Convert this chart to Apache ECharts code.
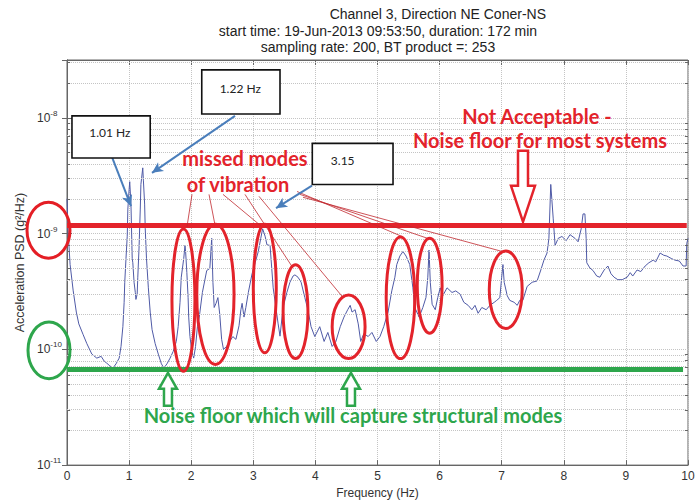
<!DOCTYPE html>
<html><head><meta charset="utf-8">
<script src="https://cdn.jsdelivr.net/npm/echarts@6/dist/echarts.min.js"></script>
<style>html,body{margin:0;padding:0;background:#fff}#c{width:699px;height:504px}</style>
</head><body><div id="c"></div>
<script>
// ---------- DATA ----------
const freq = [0.00,0.02,0.05,0.10,0.15,0.19,0.26,0.32,0.40,0.48,0.55,0.60,0.64,0.69,0.74,0.79,0.84,0.87,0.90,0.92,0.93,0.95,0.97,0.98,1.00,1.01,1.03,1.05,1.06,1.08,1.10,1.11,1.13,1.14,1.16,1.18,1.19,1.22,1.23,1.25,1.26,1.28,1.31,1.34,1.37,1.42,1.47,1.52,1.56,1.61,1.66,1.71,1.76,1.79,1.82,1.84,1.88,1.90,1.91,1.93,1.95,1.96,1.98,2.01,2.04,2.07,2.10,2.13,2.18,2.25,2.30,2.33,2.35,2.37,2.40,2.43,2.46,2.49,2.52,2.57,2.62,2.67,2.72,2.77,2.80,2.82,2.85,2.88,2.92,2.98,3.03,3.08,3.12,3.15,3.19,3.22,3.27,3.32,3.40,3.43,3.48,3.54,3.59,3.64,3.67,3.72,3.77,3.83,3.88,3.93,3.99,4.07,4.14,4.20,4.27,4.33,4.40,4.46,4.52,4.56,4.59,4.64,4.69,4.73,4.78,4.85,4.91,4.98,5.04,5.10,5.17,5.23,5.28,5.31,5.36,5.41,5.46,5.52,5.57,5.60,5.67,5.73,5.78,5.81,5.83,5.85,5.88,5.93,5.97,6.01,6.05,6.12,6.20,6.26,6.33,6.39,6.46,6.52,6.57,6.62,6.68,6.75,6.81,6.88,6.92,6.97,7.00,7.02,7.04,7.09,7.13,7.20,7.25,7.29,7.34,7.41,7.49,7.57,7.63,7.68,7.73,7.76,7.79,7.83,7.86,7.91,7.97,8.04,8.10,8.18,8.23,8.28,8.31,8.34,8.36,8.37,8.42,8.47,8.53,8.58,8.65,8.71,8.76,8.81,8.87,8.94,9.02,9.07,9.11,9.18,9.24,9.31,9.37,9.44,9.48,9.55,9.61,9.66,9.73,9.79,9.86,9.92,9.97,9.98,10.00];
const psd = [2.0e-9,1.0e-9,5.4e-10,3.2e-10,2.1e-10,1.66e-10,1.34e-10,1.12e-10,9.1e-11,8.4e-11,8.7e-11,7.9e-11,7.6e-11,7.2e-11,6.9e-11,7.5e-11,8.4e-11,1.06e-10,1.57e-10,2.55e-10,3.8e-10,6.1e-10,9.5e-10,1.63e-9,2.4e-9,2.81e-9,1.8e-9,6.1e-10,5.6e-10,3.8e-10,3.1e-10,2.7e-10,3.0e-10,4.2e-10,7.5e-10,1.63e-9,2.66e-9,3.7e-9,2.9e-9,1.8e-9,1.1e-9,6.1e-10,3.4e-10,2.1e-10,1.48e-10,1.12e-10,9.1e-11,7.5e-11,6.9e-11,7.5e-11,8.4e-11,9.6e-11,1.17e-10,1.57e-10,2.55e-10,4.2e-10,6.1e-10,7.9e-10,7.0e-10,4.6e-10,2.8e-10,1.9e-10,1.29e-10,9.6e-11,8.4e-11,1.06e-10,1.57e-10,1.9e-10,3.1e-10,4.8e-10,5.0e-10,9.1e-10,3.8e-10,2.3e-10,2.5e-10,2.8e-10,2.0e-10,1.22e-10,1.0e-10,1.06e-10,1.17e-10,1.29e-10,1.22e-10,1.6e-10,2.2e-10,2.5e-10,1.9e-10,2.3e-10,3.1e-10,4.5e-10,5.6e-10,7.0e-10,9.1e-10,1.1e-9,9.5e-10,8.0e-10,7.9e-10,3.4e-10,1.66e-10,1.3e-10,2.3e-10,3.1e-10,3.8e-10,4.3e-10,4.4e-10,4.2e-10,3.8e-10,2.8e-10,2.2e-10,1.57e-10,1.29e-10,1.57e-10,1.17e-10,1.4e-10,1.06e-10,1.17e-10,1.57e-10,1.9e-10,2.2e-10,2.4e-10,2.1e-10,2.2e-10,1.66e-10,1.17e-10,1.37e-10,1.29e-10,1.4e-10,1.17e-10,1.29e-10,1.57e-10,2.1e-10,3.2e-10,4.2e-10,5.4e-10,6.4e-10,7.0e-10,6.4e-10,5.4e-10,3.4e-10,2.3e-10,1.9e-10,2.3e-10,2.8e-10,4.2e-10,7.2e-10,3.8e-10,2.45e-10,2.2e-10,2.8e-10,3.4e-10,2.9e-10,3.4e-10,3.1e-10,3.2e-10,3.0e-10,2.55e-10,2.4e-10,2.2e-10,2.4e-10,2.05e-10,2.3e-10,2.2e-10,2.4e-10,2.55e-10,2.65e-10,2.8e-10,4.2e-10,5.4e-10,3.8e-10,2.9e-10,2.65e-10,2.55e-10,2.4e-10,2.65e-10,2.65e-10,3.5e-10,3.8e-10,3.9e-10,4.85e-10,5.9e-10,6.8e-10,9.1e-10,2.66e-9,1.34e-9,7.9e-10,9.1e-10,9.45e-10,8.7e-10,9.8e-10,9.1e-10,8.5e-10,1.1e-9,1.48e-9,1.48e-9,9.1e-10,5.6e-10,5.05e-10,4.8e-10,4.3e-10,4.2e-10,4.85e-10,5.25e-10,4.5e-10,4.2e-10,4.0e-10,4.0e-10,4.2e-10,4.6e-10,4.3e-10,4.85e-10,4.7e-10,5.25e-10,5.6e-10,5.9e-10,5.7e-10,6.8e-10,6.5e-10,6.4e-10,6.1e-10,5.9e-10,5.8e-10,5.25e-10,5.25e-10,8.2e-10,9.1e-10];
const xTicks = [0,1,2,3,4,5,6,7,8,9,10];
const yTickExps = [-11,-10,-9,-8];
const redFloor = 1.19e-9;     // "Not acceptable" noise floor
const greenFloor = 6.76e-11;  // acceptable noise floor
const titleLines = ['Channel 3, Direction NE Coner-NS','start time: 19-Jun-2013 09:53:50, duration: 172 min','sampling rate: 200, BT product =: 253'];
const boxLabels = ['1.01 Hz','1.22 Hz','3.15'];

// ---------- ANNOTATION ANCHORS (data space: [Hz, log10 PSD]) ----------
const boxes = [
  {x0:0.08,x1:1.34,y0:-8.347,y1:-7.983, tx:0.69, ty:-8.13},
  {x0:2.17,x1:3.43,y0:-7.966,y1:-7.585, tx:2.79, ty:-7.75},
  {x0:3.95,x1:5.25,y0:-8.576,y1:-8.220, tx:4.44, ty:-8.37}
];
const blueArrows = [[[0.725,-8.339],[1.031,-8.763]],[[2.705,-7.983],[1.369,-8.475]],[[3.945,-8.585],[3.366,-8.780]]];
const leaders = [[[2.013,-8.661],[1.932,-8.941]],[[2.287,-8.661],[2.383,-8.924]],[[2.512,-8.661],[3.140,-8.941]],[[2.866,-8.661],[3.639,-9.297]],[[3.092,-8.678],[4.444,-9.551]],[[3.704,-8.636],[5.395,-9.025]],[[3.752,-8.661],[5.813,-9.042]],[[3.800,-8.686],[7.053,-9.161]]];
const ellipses = [[1.69,2.06,-10.19,-8.96],[2.09,2.69,-10.13,-8.92],[3.00,3.37,-10.03,-8.92],[3.48,3.88,-10.08,-9.27],[4.27,4.80,-10.08,-9.53],[5.14,5.60,-10.08,-9.03],[5.64,6.04,-9.86,-9.04],[6.80,7.33,-9.82,-9.15]];
const axisEllipses = [{b:[-0.644,0.048,-9.212,-8.729],c:'#e41e25'},{b:[-0.628,0.048,-10.254,-9.763],c:'#2ea64c'}];

const RED = '#e3232b', GREEN = '#2ea64c', BLUE = '#4a7ebb';
const lg = v => Math.log10(v);

const minorLevels = [];
for (let d = -11; d <= -8; d++) for (let k = 2; k <= 9; k++) { const v = d + Math.log10(k); if (v < -7.5) minorLevels.push(v); }

const chart = echarts.init(document.getElementById('c'), null, {renderer:'svg', width:699, height:504});
const axisCol = '#666';
const gridLine = {show:true, lineStyle:{color:'#c4c4c4', type:'dotted', width:1}};
const option = {
  animation:false,
  backgroundColor:'#fff',
  grid:{left:67, right:11, top:60, bottom:33, show:true, borderColor:axisCol, borderWidth:1, backgroundColor:'transparent'},
  xAxis:[
    {type:'value', min:0, max:10, interval:1, position:'bottom',
     axisLine:{lineStyle:{color:axisCol}}, axisTick:{inside:true, length:5, lineStyle:{color:axisCol}},
     axisLabel:{margin:5, color:'#333', fontSize:12, fontFamily:'Liberation Sans', formatter:v=>xTicks.includes(v)?String(v):''},
     splitLine:gridLine,
     name:'Frequency (Hz)', nameLocation:'middle', nameGap:20, nameTextStyle:{color:'#333', fontSize:12, fontFamily:'Liberation Sans'}},
    {type:'value', min:0, max:10, interval:1, position:'top',
     axisLine:{lineStyle:{color:axisCol}}, axisTick:{inside:true, length:5, lineStyle:{color:axisCol}},
     axisLabel:{show:false}, splitLine:{show:false}}
  ],
  yAxis:[
    {type:'value', min:-11, max:-7.5, interval:1, position:'left',
     axisLine:{lineStyle:{color:axisCol}}, axisTick:{inside:true, length:5, lineStyle:{color:axisCol}},
     axisLabel:{showMaxLabel:false, align:'left', margin:30, color:'#333',
       formatter:v=>yTickExps.includes(v)?'{b|10}{s|'+v+'}':'',
       rich:{b:{fontSize:12, fontFamily:'Liberation Sans', color:'#333'}, s:{fontSize:8, fontFamily:'Liberation Sans', color:'#333', padding:[0,0,9,0]}}},
     splitLine:gridLine,
     name:'Acceleration PSD (g\u00b2/Hz)', nameLocation:'middle', nameGap:38, nameRotate:90,
     nameTextStyle:{color:'#333', fontSize:12.5, fontFamily:'Liberation Sans'}},
    {type:'value', min:-11, max:-7.5, interval:1, position:'right',
     axisLine:{lineStyle:{color:axisCol}}, axisTick:{inside:true, length:5, lineStyle:{color:axisCol}},
     axisLabel:{show:false}, splitLine:{show:false}}
  ],
  series:[
    {type:'line', data:[], silent:true, z:1,
     markLine:{silent:true, symbol:['none','none'], label:{show:false}, animation:false,
       data: minorLevels.map(v=>({yAxis:v, lineStyle:{color:'#c4c4c4', type:'dotted', width:1}}))
         .concat(minorLevels.map(v=>[{coord:[0,v], lineStyle:{color:axisCol, type:'solid', width:1}},{coord:[0.05,v]}]))
         .concat(minorLevels.map(v=>[{coord:[9.95,v], lineStyle:{color:axisCol, type:'solid', width:1}},{coord:[10,v]}]))}},
    {type:'line', data:freq.map((f,i)=>[f, lg(psd[i])]), showSymbol:false, symbol:'none', z:3,
     lineStyle:{color:'#4f5aa6', width:1}},
    {type:'line', data:[], silent:true, z:5,
     markLine:{silent:true, symbol:['none','none'], label:{show:false}, animation:false,
       data:[
         [{coord:[0,lg(redFloor)], lineStyle:{color:RED, width:5, type:'solid'}},{coord:[9.98,lg(redFloor)]}],
         [{coord:[0,lg(greenFloor)], lineStyle:{color:GREEN, width:5, type:'solid'}},{coord:[9.92,lg(greenFloor)]}]
       ].concat(leaders.map(l=>[{coord:l[0], lineStyle:{color:'#c0282e', width:0.8, type:'solid'}},{coord:l[1]}]))}},
    {type:'line', data:[], silent:true, z:8,
     markLine:{silent:true, symbol:['none','arrow'], symbolSize:[8,11], label:{show:false}, animation:false,
       data: blueArrows.map(a=>[{coord:a[0], lineStyle:{color:BLUE, width:2, type:'solid'}},{coord:a[1]}])}}
  ]
};
chart.setOption(option);

const P = (f, L) => chart.convertToPixel({seriesIndex:1}, [f, L]);
const g = [];
function txt(x, y, text, size, color, weight, align, family) {
  g.push({type:'text', x, y, z:20, silent:true, style:{text, fontSize:size, fontFamily:family||'Liberation Sans', fontWeight:weight||'normal', fill:color, textAlign:align||'center', align:align||'center', textVerticalAlign:'middle', verticalAlign:'middle'}});
}
// titles
txt(546, 14, titleLines[0], 14, '#222', 'normal', 'right');
txt(378, 31, titleLines[1], 14, '#222', 'normal', 'center');
txt(378, 47, titleLines[2], 14, '#222', 'normal', 'center');
// ellipses around modes
ellipses.concat(axisEllipses.map(e=>e.b)).forEach((e, i) => {
  const a = P(e[0], e[3]), b = P(e[1], e[2]);
  const col = i < ellipses.length ? RED : axisEllipses[i - ellipses.length].c;
  g.push({type:'ellipse', z:10, silent:true, shape:{cx:(a[0]+b[0])/2, cy:(a[1]+b[1])/2, rx:Math.abs(b[0]-a[0])/2, ry:Math.abs(b[1]-a[1])/2},
    style:{fill:'none', stroke:col, lineWidth:3}});
});
// boxes
boxes.forEach((bx, i) => {
  const a = P(bx.x0, bx.y1), b = P(bx.x1, bx.y0);
  g.push({type:'rect', z:12, silent:true, shape:{x:a[0], y:a[1], width:b[0]-a[0], height:b[1]-a[1]}, style:{fill:'#fff', stroke:'#111', lineWidth:1.6}});
  const t = P(bx.tx, bx.ty);
  txt(t[0], t[1], boxLabels[i], 12, '#222', 'normal', 'center', 'Lato');
});
// red texts
let p = P(2.866, -8.347); txt(p[0], p[1], 'missed modes', 20, RED, 'bold', 'center', 'Lato');
p = P(2.754, -8.568); txt(p[0], p[1], 'of vibration', 20, RED, 'bold', 'center', 'Lato');
p = P(7.568, -7.983); txt(p[0], p[1], 'Not Acceptable -', 20, RED, 'bold', 'center', 'Lato');
p = P(7.617, -8.195); txt(p[0], p[1], 'Noise floor for most systems', 20, RED, 'bold', 'center', 'Lato');
p = P(4.605, -10.568); txt(p[0], p[1], 'Noise floor which will capture structural modes', 20, GREEN, 'bold', 'center', 'Lato');
// hollow arrows
const t = P(7.343, -8.898);
g.push({type:'polygon', z:11, silent:true, shape:{points:[[t[0]-5,t[1]-71],[t[0]+5,t[1]-71],[t[0]+5,t[1]-36],[t[0]+12,t[1]-36],[t[0],t[1]],[t[0]-12,t[1]-36],[t[0]-5,t[1]-36]]}, style:{fill:'#fff', stroke:RED, lineWidth:2.5}});
[1.626, 4.573].forEach(f => {
  const q = P(f, -10.203);
  g.push({type:'polygon', z:11, silent:true, shape:{points:[[q[0],q[1]],[q[0]+9,q[1]+16],[q[0]+4,q[1]+16],[q[0]+4,q[1]+33],[q[0]-4,q[1]+33],[q[0]-4,q[1]+16],[q[0]-9,q[1]+16]]}, style:{fill:'#fff', stroke:GREEN, lineWidth:2.5}});
});
chart.setOption({graphic:{elements:g}});
</script></body></html>
